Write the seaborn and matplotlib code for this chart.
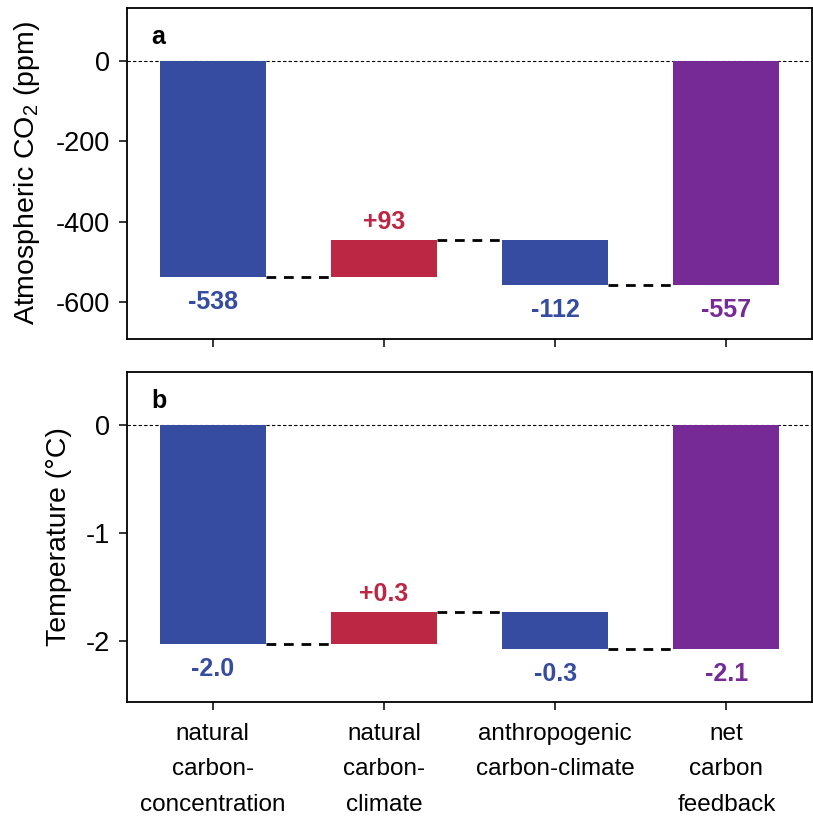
import matplotlib
matplotlib.use("Agg")
import matplotlib.pyplot as plt
import numpy as np
import pandas as pd
import seaborn as sns

# Feedback components (last entry is the net feedback)
categories = ["natural\ncarbon-\nconcentration", "natural\ncarbon-\nclimate",
              "anthropogenic\ncarbon-climate", "net\ncarbon\nfeedback"]
co2_ppm = [-538, 93, -112, -557]
temp_c = [-2.02, 0.29, -0.34, -2.07]
co2_ticks = [0, -200, -400, -600]
temp_ticks = [0, -1, -2]

BLUE = "#354CA0"
RED = "#BC2744"
PURPLE = "#762A96"


def bar_color(i, v):
    if i == len(categories) - 1:
        return PURPLE
    return RED if v > 0 else BLUE


def waterfall_frame(values):
    bottoms, heights = [], []
    cum = 0.0
    for v in values[:-1]:
        bottoms.append(cum)
        heights.append(v)
        cum += v
    bottoms.append(0.0)
    heights.append(values[-1])
    return pd.DataFrame({"category": categories, "height": heights, "bottom": bottoms})


def draw_panel(ax, values, fmt, letter, ylim, ticks, ylabel):
    df = waterfall_frame(values)
    width = 0.62
    sns.barplot(data=df, x="category", y="height", order=categories,
                bottom=df["bottom"].to_numpy(), width=width, errorbar=None,
                color=BLUE, saturation=1, linewidth=0, ax=ax)
    colors = [bar_color(i, v) for i, v in enumerate(values)]
    for patch, c in zip(ax.patches, colors):
        patch.set_facecolor(c)
        patch.set_edgecolor("none")

    # zero reference
    ax.axhline(0, color="black", lw=0.8, ls=(0, (3, 2)), zorder=0)

    # connectors between consecutive bars
    for i in range(len(values) - 1):
        lo = df["bottom"][i]
        level = lo + df["height"][i]
        ax.plot([i + width / 2, i + 1 - width / 2], [level, level],
                color="black", lw=2.0, ls=(0, (3.5, 2.8)), zorder=1)

    # value labels
    for i, v in enumerate(values):
        b = df["bottom"][i]
        t = b + df["height"][i]
        txt = fmt(v)
        if v < 0:
            ax.annotate(txt, (i, min(b, t)), xytext=(0, -23), textcoords="offset points",
                        ha="center", va="baseline", fontsize=18, fontweight="bold",
                        color=colors[i])
        else:
            ax.annotate(txt, (i, max(b, t)), xytext=(0, 8), textcoords="offset points",
                        ha="center", va="baseline", fontsize=18, fontweight="bold",
                        color=colors[i])

    ax.text(0.036, 0.95, letter, transform=ax.transAxes, ha="left", va="top",
            fontsize=18, fontweight="bold", color="black")
    ax.set_xlim(-0.5, len(categories) - 0.5)
    ax.set_ylim(*ylim)
    ax.set_yticks(ticks)
    ax.set_yticklabels([f"{t:d}" for t in ticks])
    ax.set_ylabel(ylabel, fontsize=20.5, color="black", labelpad=10)
    ax.set_xlabel("")
    for s in ax.spines.values():
        s.set_visible(True)
        s.set_linewidth(1.3)
        s.set_color("black")
    ax.tick_params(axis="both", direction="out", length=6, width=1.1, color="black",
                   labelcolor="black", bottom=True, left=True, top=False, right=False)
    ax.tick_params(axis="y", labelsize=19.5, pad=6)
    ax.tick_params(axis="x", labelsize=17.5, pad=9)


sns.set_theme(style="ticks")
plt.rcParams["font.family"] = ["Liberation Sans", "DejaVu Sans"]
plt.rcParams["mathtext.fontset"] = "custom"
plt.rcParams["mathtext.rm"] = "Liberation Sans"
plt.rcParams["text.color"] = "black"

fig = plt.figure(figsize=(8.13, 8.18), dpi=100)
W, H = 813, 818
ax1 = fig.add_axes([127 / W, 1 - 339 / H, 685 / W, 331 / H])
ax2 = fig.add_axes([127 / W, 1 - 702 / H, 685 / W, 330 / H])

draw_panel(ax1, co2_ppm, lambda v: f"{v:+d}", "a", (-692, 132), co2_ticks,
           "Atmospheric CO$_\\mathregular{2}$ (ppm)")
draw_panel(ax2, temp_c, lambda v: f"{v:+.1f}", "b", (-2.56, 0.49), temp_ticks,
           "Temperature (°C)")

ax1.set_xticks(range(len(categories)))
ax1.set_xticklabels([])
ax2.set_xticks(range(len(categories)))
ax2.set_xticklabels(categories, linespacing=1.8)

fig.savefig("out.png", dpi=100)
